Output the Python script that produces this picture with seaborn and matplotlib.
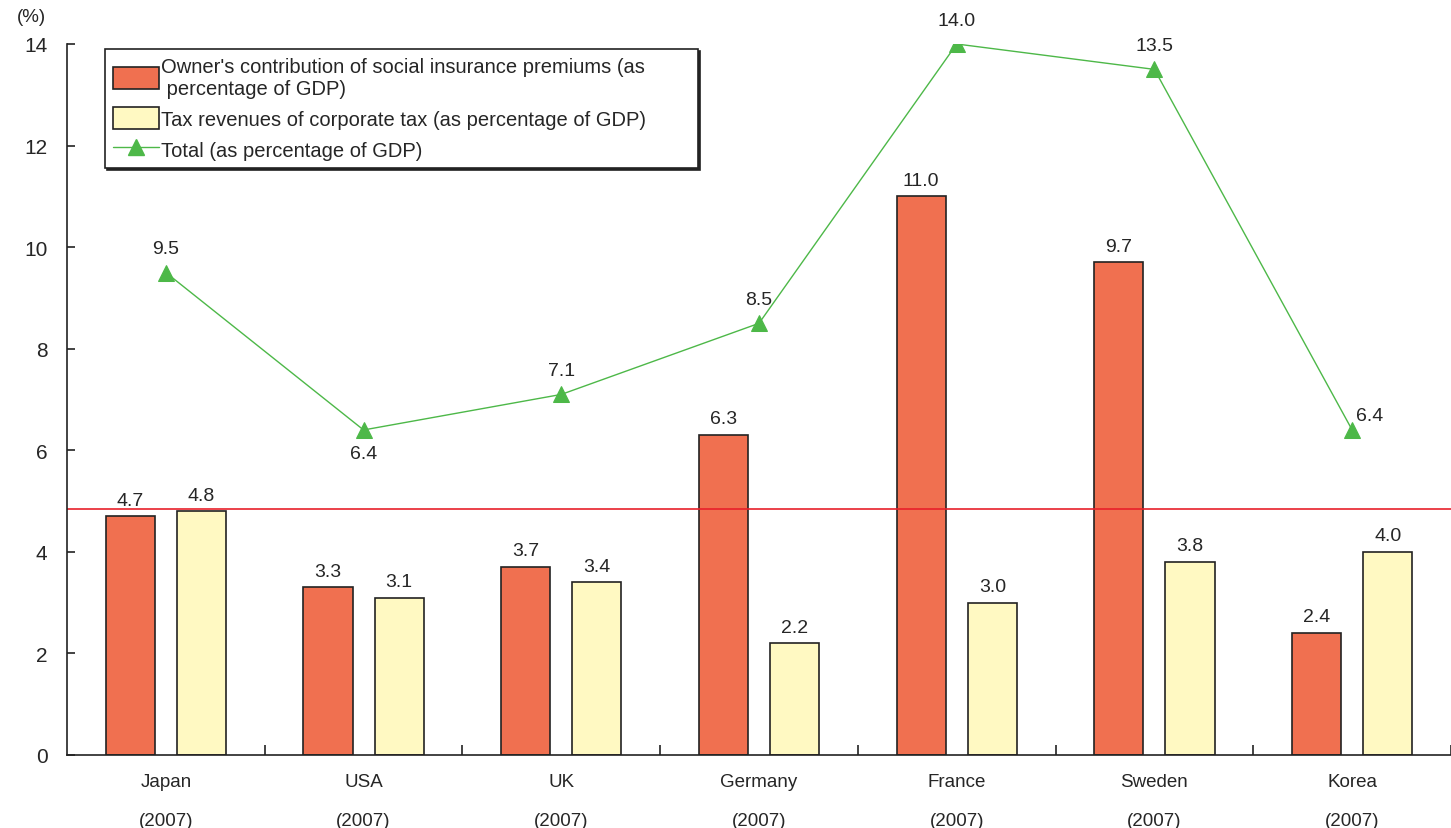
import numpy as np
import pandas as pd
import matplotlib
matplotlib.use("Agg")
import matplotlib.pyplot as plt
import seaborn as sns
from matplotlib.patches import Patch
from matplotlib.lines import Line2D

# Data
countries = ["Japan", "USA", "UK", "Germany", "France", "Sweden", "Korea"]
years = ["(2007)"] * 7
social_insurance = [4.7, 3.3, 3.7, 6.3, 11.0, 9.7, 2.4]
corporate_tax = [4.8, 3.1, 3.4, 2.2, 3.0, 3.8, 4.0]
total = [9.5, 6.4, 7.1, 8.5, 14.0, 13.5, 6.4]

series_names = [
    "Owner's contribution of social insurance premiums (as\n percentage of GDP)",
    "Tax revenues of corporate tax (as percentage of GDP)",
]
total_name = "Total (as percentage of GDP)"

red = "#F07050"
yellow = "#FFF9C2"
green = "#4DB848"

sns.set_style("white")
plt.rcParams["font.family"] = ["Liberation Sans", "DejaVu Sans"]

df = pd.DataFrame({
    "country": countries * 2,
    "series": [series_names[0]] * 7 + [series_names[1]] * 7,
    "value": social_insurance + corporate_tax,
})

fig = plt.figure(figsize=(14.51, 8.29), dpi=100)
ax = fig.add_axes([67 / 1451, 1 - 756 / 829, 1 - 67 / 1451, (756 - 45) / 829])

sns.barplot(data=df, x="country", y="value", hue="series", order=countries,
            palette=[red, yellow], saturation=1, width=0.72, gap=0.31,
            edgecolor="#222222", linewidth=1.2, ax=ax, legend=False,
            errorbar=None)

sns.pointplot(x=countries, y=total, order=countries, color=green, markers="^",
              linewidth=1.0, markersize=11, ax=ax, errorbar=None)

# horizontal reference line at Japan's corporate tax level
ax.axhline(corporate_tax[0] + 0.05, color="#E8202A", lw=1.2, zorder=1)

# value labels on bars
for i in range(len(countries)):
    ax.text(i - 0.18, social_insurance[i] + 0.15, f"{social_insurance[i]:.1f}",
            ha="center", va="bottom", fontsize=14)
    ax.text(i + 0.18, corporate_tax[i] + 0.15, f"{corporate_tax[i]:.1f}",
            ha="center", va="bottom", fontsize=14)

# value labels on the total line
for i, v in enumerate(total):
    if countries[i] == "USA":
        ax.text(i, v - 0.3, f"{v:.1f}", ha="center", va="top", fontsize=14)
    elif countries[i] == "Korea":
        ax.text(i + 0.02, v + 0.12, f"{v:.1f}", ha="left", va="bottom", fontsize=14)
    else:
        ax.text(i, v + 0.3, f"{v:.1f}", ha="center", va="bottom", fontsize=14)

ax.set_ylim(0, 14)
ax.set_xlim(-0.5, 6.386)
ax.set_yticks(np.arange(0, 15, 2))
ax.set_xticks(np.arange(len(countries)))
ax.set_xticklabels([f"{c}\n\n{y}" for c, y in zip(countries, years)], fontsize=13.5)
ax.set_xticks(np.arange(len(countries)) + 0.5, minor=True)
ax.tick_params(axis="x", which="major", bottom=True, length=0, pad=13)
ax.tick_params(axis="x", which="minor", bottom=True, direction="in",
               length=7, width=1.2, color="#222222")
ax.tick_params(axis="y", left=True, direction="in", length=6, width=1.2,
               color="#222222", labelsize=15, pad=14)
ax.set_xlabel("")
ax.set_ylabel("")
for side in ["top", "right"]:
    ax.spines[side].set_visible(False)
for side in ["left", "bottom"]:
    ax.spines[side].set_color("#222222")
    ax.spines[side].set_linewidth(1.2)

fig.text(31 / 1451, 1 - 18 / 829, "(%)", fontsize=13.5, ha="center", va="center")

handles = [
    Patch(facecolor=red, edgecolor="#222222", linewidth=1.2),
    Patch(facecolor=yellow, edgecolor="#222222", linewidth=1.2),
    Line2D([], [], color=green, marker="^", markersize=11, linewidth=1.0),
]
leg = ax.legend(handles, series_names + [total_name], loc="upper left",
                bbox_to_anchor=(38 / 1384, 0.993, 593 / 1384, 0), mode="expand",
                fontsize=14.5, frameon=True, fancybox=False, edgecolor="#222222",
                handlelength=2.3, handleheight=1.3, handletextpad=0.1,
                labelspacing=0.45, borderpad=0.4, borderaxespad=0,
                shadow={"color": "#222222", "alpha": 1, "ox": 1.5, "oy": -1.5})
leg.get_frame().set_linewidth(1.2)

fig.savefig("out.png", dpi=100)
